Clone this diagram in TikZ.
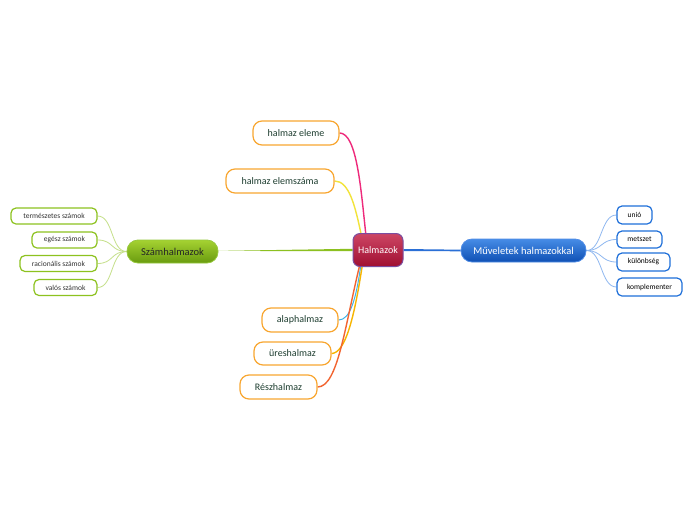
\documentclass[tikz,border=0pt]{standalone}
\usepackage{fontspec}
\setmainfont{Carlito}
\usetikzlibrary{backgrounds}
\definecolor{orb}{HTML}{F8A630}
\definecolor{tealtxt}{HTML}{1D3D2F}
\definecolor{grn}{HTML}{8DC21F}
\definecolor{grnl}{HTML}{C5E08A}
\definecolor{grnm}{HTML}{8CC020}
\definecolor{blu}{HTML}{1E6FD9}
\definecolor{blul}{HTML}{8FB8F0}
\definecolor{blum}{HTML}{2A6FD6}
\definecolor{pinkc}{HTML}{EE2A7B}
\definecolor{yelc}{HTML}{F2E33A}
\definecolor{lbc}{HTML}{3FB4E8}
\definecolor{orc}{HTML}{F7B500}
\definecolor{redc}{HTML}{F26430}
\definecolor{leaftxt}{HTML}{333333}
\begin{document}
\begin{tikzpicture}[x=1pt,y=-1pt,
  topic/.style={draw=orb, line width=1.2pt, fill=white, rounded corners=9pt, inner sep=0pt, text=tealtxt, font=\fontsize{10}{12}\selectfont},
  gleaf/.style={draw=grn, line width=1.2pt, fill=white, rounded corners=5pt, inner sep=0pt, minimum height=16pt, text=leaftxt, font=\fontsize{7.5}{9}\selectfont},
  bleaf/.style={draw=blu, line width=1.2pt, fill=white, rounded corners=5pt, inner sep=0pt, minimum height=17pt, text=black, font=\fontsize{7.5}{9}\selectfont},
  con/.style={line width=1.4pt},
  leafcon/.style={line width=0.8pt}
]
\useasboundingbox (0,0) rectangle (696,520);

% main nodes
\node[draw={rgb,255:red,123;green,77;blue,160}, line width=1pt, rounded corners=7pt, top color={rgb,255:red,205;green,70;blue,100}, bottom color={rgb,255:red,160;green,15;blue,50}, minimum width=50pt, minimum height=33pt, inner sep=0pt, text=white, font=\fontsize{10}{12}\selectfont] (c) at (378,250) {Halmazok};

\node[draw={rgb,255:red,150;green,200;blue,60}, line width=0.8pt, rounded corners=11pt, top color={rgb,255:red,165;green,210;blue,50}, bottom color={rgb,255:red,105;green,155;blue,15}, minimum width=91pt, minimum height=23pt, inner sep=0pt, text=black!85, font=\fontsize{10.5}{12}\selectfont] (sz) at (172.5,251.5) {Számhalmazok};

\node[draw={rgb,255:red,80;green,140;blue,230}, line width=0.8pt, rounded corners=11pt, top color={rgb,255:red,70;green,140;blue,230}, bottom color={rgb,255:red,15;green,80;blue,180}, minimum width=125pt, minimum height=23pt, inner sep=0pt, text=white, font=\fontsize{10.5}{12}\selectfont] (mu) at (523.5,250.5) {Műveletek halmazokkal};

% topics
\node[topic, minimum width=86pt, minimum height=24pt] (e1) at (296,133) {halmaz eleme};
\node[topic, minimum width=108pt, minimum height=24pt] (e2) at (280,181) {halmaz elemszáma};
\node[topic, minimum width=76pt, minimum height=24pt] (a1) at (300,320) {alaphalmaz};
\node[topic, minimum width=77pt, minimum height=23pt] (a2) at (292.5,353.5) {üreshalmaz};
\node[topic, minimum width=77pt, minimum height=24pt] (a3) at (278.5,387) {Részhalmaz};

% green leaves
\node[gleaf, minimum width=86pt] (g1) at (54,216) {természetes számok};
\node[gleaf, minimum width=65pt] (g2) at (64.5,240) {egész számok};
\node[gleaf, minimum width=77pt] (g3) at (58.5,263.5) {racionális számok};
\node[gleaf, minimum width=63pt] (g4) at (65.5,287.5) {valós számok};

% blue leaves
\node[bleaf, minimum width=35pt, minimum height=18pt] (b1) at (634.5,215) {unió};
\node[bleaf, minimum width=45pt] (b2) at (639.5,239.5) {metszet};
\node[bleaf, minimum width=53pt, minimum height=18pt] (b3) at (643.5,262) {különbség};
\node[bleaf, minimum width=65pt, minimum height=18pt] (b4) at (649.5,287) {komplementer};

% anchor coordinates on the central node
\coordinate (ct1) at (366,236);
\coordinate (ct2) at (361.5,236);
\coordinate (cb1) at (361,264);
\coordinate (cb2) at (362.5,264);
\coordinate (cb3) at (360,264);

\begin{pgfonlayer}{background}
\fill[white] (0,0) rectangle (696,520);
% central branches
\draw[con, pinkc] (e1.east) .. controls (357,133) and (361,190) .. (ct1);
\draw[con, yelc] (e2.east) .. controls (349,181) and (355,205) .. (ct2);
\draw[con, lbc, line width=1pt] (cb1) .. controls (356,300) and (350,320) .. (a1.east);
\draw[con, orc] (cb2) .. controls (354,320) and (345,353) .. (a2.east);
\draw[con, redc] (cb3) .. controls (345,325) and (338,387) .. (a3.east);
\fill[grnm] (sz.east) ++(0,-0.6) -- ([yshift=-1.2pt]c.west) -- ([yshift=1.2pt]c.west) -- ([yshift=0.6pt]sz.east) -- cycle;
\fill[blum] ([yshift=-1pt]c.east) -- ([yshift=-0.8pt]mu.west) -- ([yshift=0.8pt]mu.west) -- ([yshift=1pt]c.east) -- cycle;
% leaf branches
\foreach \g in {g1,g2,g3,g4}
  \draw[leafcon, grnl] (sz.west) .. controls +(-16,0) and +(16,0) .. (\g.east);
\foreach \b in {b1,b2,b3,b4}
  \draw[leafcon, blul] (mu.east) .. controls +(16,0) and +(-16,0) .. (\b.west);
\end{pgfonlayer}
\end{tikzpicture}
\end{document}
